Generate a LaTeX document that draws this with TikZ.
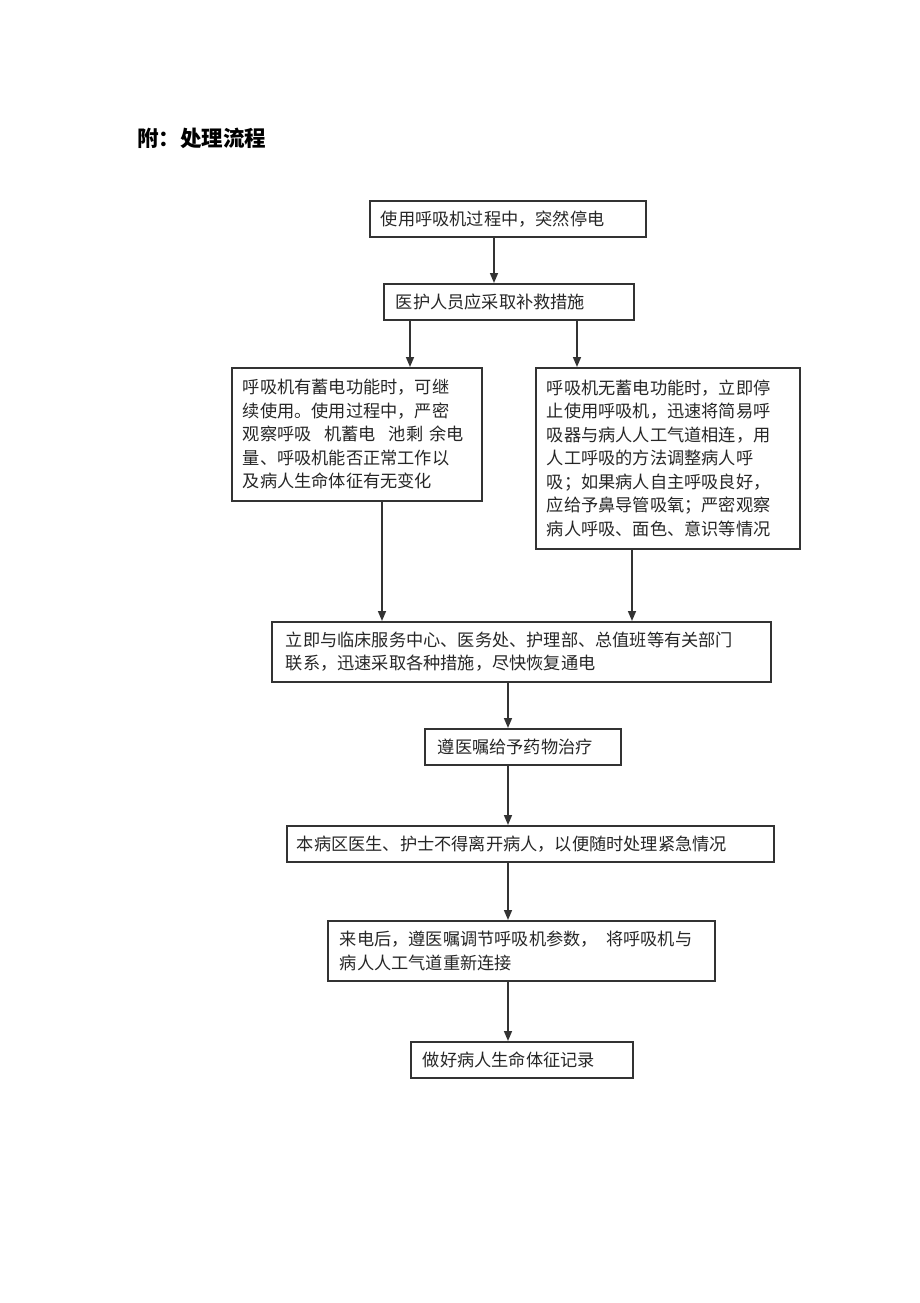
\documentclass[tikz,border=0pt]{standalone}
\usepackage{fontspec}
\setmainfont{Noto Sans CJK SC}
\usetikzlibrary{arrows.meta}
\begin{document}
\begin{tikzpicture}[x=1pt,y=-1pt,
  box/.style={draw=black!80,line width=1.6pt,anchor=north west,align=left,
    inner xsep=11pt,inner ysep=0pt,font=\fontsize{17.2}{23.5}\selectfont,text=black!85},
  arr/.style={draw=black!80,line width=1.6pt,-{Triangle[length=10pt,width=8pt]}}]
\useasboundingbox (0,0) rectangle (920,1303);
\node[anchor=west,font=\fontsize{21.5}{24}\selectfont\bfseries,inner sep=0pt] (title) at (137,138) {附：处理流程};
\node[box,text width=254pt,minimum height=36pt] (b1) at (369,200) {使用呼吸机过程中，突然停电};
\node[box,text width=226pt,minimum height=36pt,inner xsep=12pt] (b2) at (383,283) {医护人员应采取补救措施};
\node[box,text width=228pt,minimum height=133pt] (b3) at (231,367) {呼吸机有蓄电功能时，可继\\续使用。使用过程中，严密\\观察呼吸\hspace{0.75em}机蓄电\hspace{0.75em}池剩\hspace{0.35em}余电\\量、呼吸机能否正常工作以\\及病人生命体征有无变化};
\node[box,text width=242pt,minimum height=181pt] (b4) at (535,367) {呼吸机无蓄电功能时，立即停\\止使用呼吸机，迅速将简易呼\\吸器与病人人工气道相连，用\\人工呼吸的方法调整病人呼\\吸；如果病人自主呼吸良好，\\应给予鼻导管吸氧；严密观察\\病人呼吸、面色、意识等情况};
\node[box,text width=471pt,minimum height=60pt,inner xsep=14pt] (b5) at (271,621) {立即与临床服务中心、医务处、护理部、总值班等有关部门\\联系，迅速采取各种措施，尽快恢复通电};
\node[box,text width=170pt,minimum height=36pt,inner xsep=13pt] (b6) at (424,728) {遵医嘱给予药物治疗};
\node[box,text width=467pt,minimum height=36pt,inner xsep=10pt] (b7) at (286,825) {本病区医生、护士不得离开病人，以便随时处理紧急情况};
\node[box,text width=363pt,minimum height=60pt,inner xsep=12pt] (b8) at (327,920) {来电后，遵医嘱调节呼吸机参数，\hspace{0.5em}将呼吸机与\\病人人工气道重新连接};
\node[box,text width=198pt,minimum height=36pt,inner xsep=12pt] (b9) at (410,1041) {做好病人生命体征记录};
\coordinate (xa) at (494,0);
\coordinate (xb) at (410,0);
\coordinate (xc) at (577,0);
\coordinate (xd) at (382,0);
\coordinate (xe) at (632,0);
\coordinate (xf) at (508,0);
\draw[arr] (b1.south -| xa) -- (b2.north -| xa);
\draw[arr] (b2.south -| xb) -- (b3.north -| xb);
\draw[arr] (b2.south -| xc) -- (b4.north -| xc);
\draw[arr] (b3.south -| xd) -- (b5.north -| xd);
\draw[arr] (b4.south -| xe) -- (b5.north -| xe);
\draw[arr] (b5.south -| xf) -- (b6.north -| xf);
\draw[arr] (b6.south -| xf) -- (b7.north -| xf);
\draw[arr] (b7.south -| xf) -- (b8.north -| xf);
\draw[arr] (b8.south -| xf) -- (b9.north -| xf);
\end{tikzpicture}
\end{document}
